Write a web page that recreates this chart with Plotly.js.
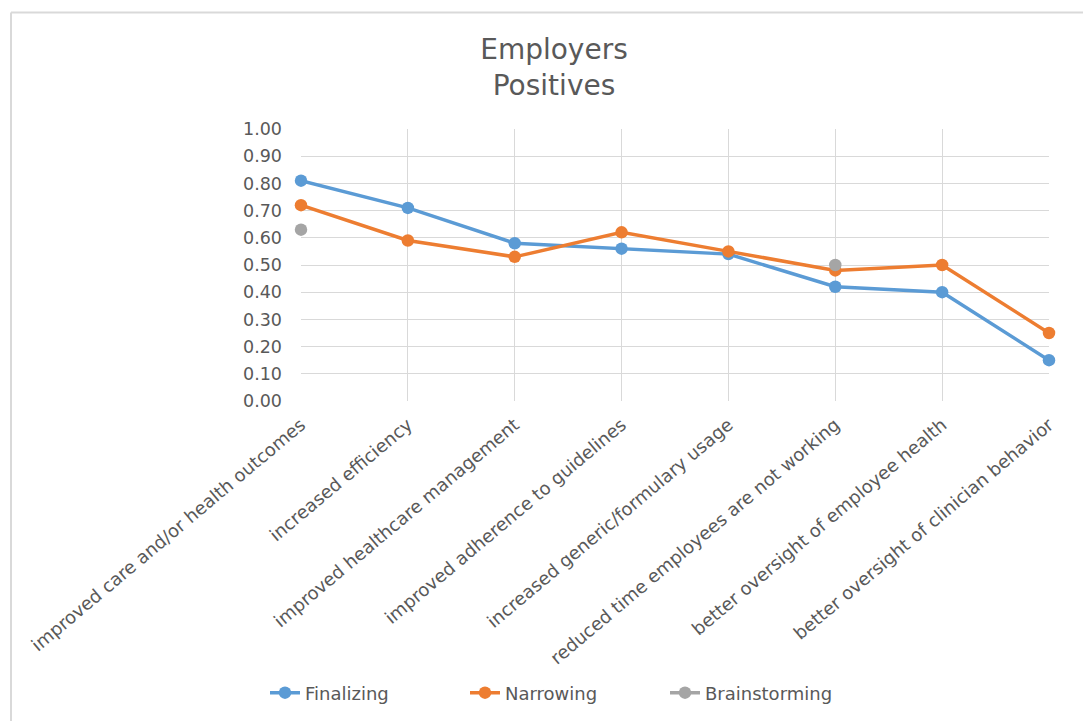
<!DOCTYPE html>
<html>
<head>
<meta charset="utf-8">
<script src="https://cdn.plot.ly/plotly-3.0.1.min.js"></script>
<style>html,body{margin:0;padding:0;background:#fff;}#chart{width:1083px;height:721px;}</style>
</head>
<body>
<div id="chart"></div>
<script>
const categories = [
  "improved care and/or health outcomes",
  "increased efficiency",
  "improved healthcare management",
  "improved adherence to guidelines",
  "increased generic/formulary usage",
  "reduced time employees are not working",
  "better oversight of employee health",
  "better oversight of clinician behavior"
];
const finalizing = [0.81, 0.71, 0.58, 0.56, 0.54, 0.42, 0.40, 0.15];
const narrowing = [0.72, 0.59, 0.53, 0.62, 0.55, 0.48, 0.50, 0.25];
const brainstorming = [0.63, null, null, null, null, 0.50, null, null];
const yTicks = [0, 0.1, 0.2, 0.3, 0.4, 0.5, 0.6, 0.7, 0.8, 0.9, 1.0];

const FONT = "DejaVu Sans, Open Sans, sans-serif";
const TXT = "#595959";
const GRID = "#d9d9d9";

function series(name, y, color) {
  return {
    type: "scatter", mode: "lines+markers", name: name,
    x: categories, y: y, connectgaps: false, cliponaxis: false,
    line: {color: color, width: 3.5},
    marker: {color: color, size: 12.5}
  };
}

const data = [
  series("Finalizing", finalizing, "#5B9BD5"),
  series("Narrowing", narrowing, "#ED7D31"),
  series("Brainstorming", brainstorming, "#A5A5A5")
];

const L = 301, R = 1049, T = 129, B = 402;
const W = R - L, H = B - T;
const px = v => (v - L) / W;
const py = v => (B - v) / H;

const layout = {
  width: 1083, height: 721,
  margin: {l: L, r: 1083 - R, t: T, b: 721 - B},
  paper_bgcolor: "#fff", plot_bgcolor: "#fff",
  font: {family: FONT, color: TXT, size: 17},
  title: {
    text: "Employers<br>Positives",
    font: {family: FONT, size: 28, color: TXT},
    x: 554 / 1083, xref: "container", xanchor: "center",
    y: 1 - 59 / 721, yref: "container", yanchor: "middle"
  },
  xaxis: {
    type: "category", categoryorder: "array", categoryarray: categories,
    range: [0, categories.length - 1],
    showgrid: true, gridcolor: GRID, gridwidth: 1,
    showline: false, zeroline: false, ticks: "",
    tickangle: -40, ticklabelstandoff: 9,
    tickfont: {family: FONT, size: 18, color: TXT},
    fixedrange: true
  },
  yaxis: {
    range: [0, 1], tickvals: yTicks, tickformat: ".2f",
    showgrid: true, gridcolor: GRID, gridwidth: 1,
    showline: false, zeroline: false, ticks: "",
    ticklabelstandoff: 18,
    tickfont: {family: FONT, size: 17.5, color: TXT},
    fixedrange: true
  },
  showlegend: true,
  legend: {
    orientation: "h", x: px(565), y: py(693), xref: "paper", yref: "paper",
    xanchor: "center", yanchor: "middle",
    font: {family: FONT, size: 18, color: TXT},
    entrywidth: 155, entrywidthmode: "pixels",
    tracegroupgap: 0
  },
  shapes: [
    {type: "line", xref: "paper", yref: "paper", x0: px(11), x1: px(11), y0: py(740), y1: py(12),
     line: {color: GRID, width: 2}, layer: "below"},
    {type: "line", xref: "paper", yref: "paper", x0: px(11), x1: px(1100), y0: py(12), y1: py(12),
     line: {color: GRID, width: 2}, layer: "below"}
  ]
};

Plotly.newPlot("chart", data, layout, {displayModeBar: false, staticPlot: true});
</script>
</body>
</html>
